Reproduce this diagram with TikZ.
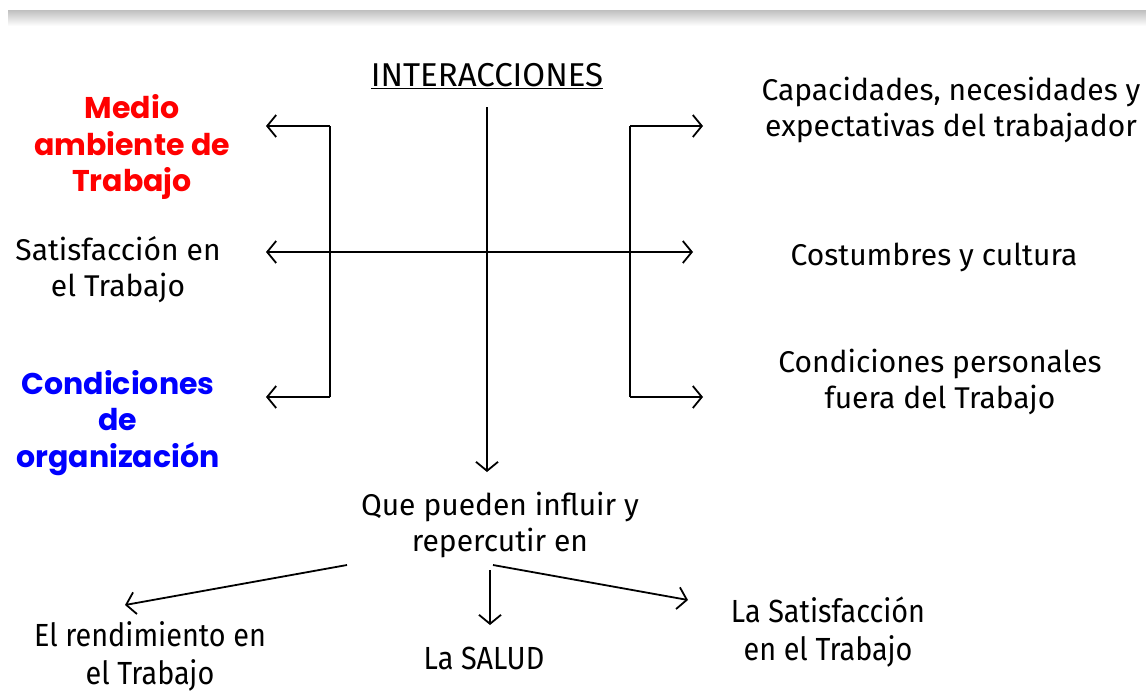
\documentclass[tikz,border=0pt]{standalone}
\usepackage{fontspec}
\setmainfont{Fira Sans}
\newfontfamily\widefont{Poppins}
\newfontfamily\narrowfont[FakeStretch=0.9]{Fira Sans}
\usetikzlibrary{arrows.meta}

\tikzset{
  txt/.style={align=center,inner sep=0pt,font=\fontsize{30}{36}\selectfont},
  boldtxt/.style={align=center,inner sep=0pt,font=\widefont\fontsize{30}{36.5}\selectfont\bfseries},
  lowtxt/.style={align=center,inner sep=0pt,font=\narrowfont\fontsize{32}{38}\selectfont},
  link/.style={line width=1.8pt,-{Straight Barb[length=9pt,width=22pt]}},
  twolink/.style={line width=1.8pt,{Straight Barb[length=9pt,width=22pt]}-{Straight Barb[length=9pt,width=22pt]}},
}

\begin{document}
\begin{tikzpicture}[x=1pt,y=-1pt]

\useasboundingbox (0,0) rectangle (1146,694);
\shade[top color=black!25,bottom color=white] (8,10) rectangle (1146,26);

% titles
\node (title) at (487,76) [txt,font=\fontsize{33}{36}\selectfont] {\underline{INTERACCIONES}};

% left column
\node (medio) at (132,147) [boldtxt,text=red] {Medio\\ambiente de\\Trabajo};
\node (satis) at (118,270) [txt] {Satisfacción en\\el Trabajo};
\node (condi) at (118,423) [boldtxt,text=blue] {Condiciones\\de\\organización};

% right column
\node (capac) at (951,110) [txt] {Capacidades, necesidades y\\expectativas del trabajador};
\node (costu) at (934,257) [txt] {Costumbres y cultura};
\node (perso) at (940,382) [txt] {Condiciones personales\\fuera del Trabajo};

% middle and bottom
\node (que) at (500,525) [txt] {Que pueden influir y\\repercutir en};
\node (rend) at (150,656) [lowtxt] {El rendimiento en\\el Trabajo};
\node (salud) at (484,658) [lowtxt] {La SALUD};
\node (lasat) at (828,632) [lowtxt] {La Satisfacción\\en el Trabajo};

% junctions
\coordinate (top) at (487,107);
\coordinate (down) at (487,472);
\coordinate (lt) at (330,126);
\coordinate (lb) at (330,397);
\coordinate (rt) at (630,126);
\coordinate (rb) at (630,397);
\coordinate (lmid) at (266,252);
\coordinate (rmid) at (693,252);
\coordinate (q1) at (347,565);
\coordinate (q2) at (490,570);
\coordinate (q3) at (493,565);
\coordinate (e1) at (125,605);
\coordinate (e2) at (490,625);
\coordinate (e3) at (688,600);

\draw [line width=1.8pt] (lt) -- (lb) (rt) -- (rb);
\draw [link] (top) -- (down);
\draw [twolink] (lmid) -- (rmid);
\draw [link] (lt) -- (266,126);
\draw [link] (lb) -- (266,397);
\draw [link] (rt) -- (703,126);
\draw [link] (rb) -- (703,397);

\draw [link] (q1) -- (e1);
\draw [link] (q2) -- (e2);
\draw [link] (q3) -- (e3);

\end{tikzpicture}
\end{document}
